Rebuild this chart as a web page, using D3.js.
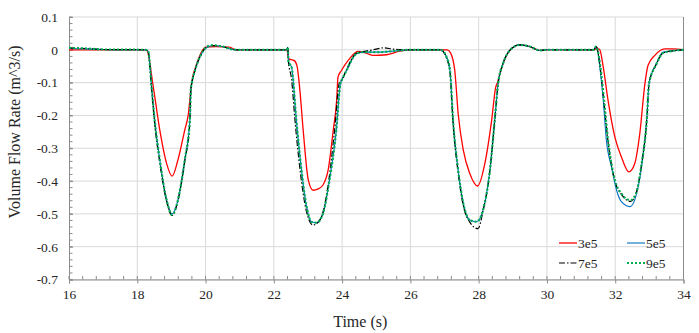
<!DOCTYPE html>
<html>
<head>
<meta charset="utf-8">
<script src="https://cdn.jsdelivr.net/npm/d3@7"></script>
<style>
  body { margin: 0; background: #fff; }
</style>
</head>
<body>
<div id="chart"></div>
<script>
// series data (time in s, flow in m^3/s)
var t3e5 = [16, 18.2, 18.28, 18.47, 18.66, 18.86, 19.02, 19.19, 19.39, 19.49, 19.59, 19.75, 19.88, 20.0, 20.3, 20.7, 20.9,
  22.39, 22.42, 22.6, 22.68, 22.76, 22.86, 23.01, 23.15, 23.3, 23.44, 23.59, 23.74, 23.84, 23.88, 23.98, 24.22, 24.47, 24.7, 24.91, 25.3, 25.69, 26.0,
  27.08, 27.18, 27.3, 27.4, 27.55, 27.74, 27.97, 28.18, 28.38, 28.5, 28.55, 28.71, 28.91, 29.2, 29.5, 29.79, 30.0,
  31.4, 31.45, 31.5, 31.55, 31.65, 31.79, 31.99, 32.18, 32.4, 32.57, 32.72, 32.87, 32.96, 33.16, 33.45, 33.7, 34];
var v3e5 = [0, 0, -0.002, -0.114, -0.245, -0.347, -0.385, -0.336, -0.245, -0.2, -0.103, -0.04, -0.007, 0.008, 0.01, 0.008, 0,
  0, -0.027, -0.033, -0.05, -0.12, -0.245, -0.397, -0.428, -0.424, -0.412, -0.367, -0.245, -0.154, -0.083, -0.063, -0.027, -0.005, -0.01, -0.017, -0.015, -0.004, 0,
  0, -0.01, -0.063, -0.195, -0.306, -0.377, -0.415, -0.347, -0.215, -0.114, -0.1, -0.043, -0.002, 0.015, 0.01, -0.002, 0,
  0, 0.008, 0.003, 0, -0.053, -0.154, -0.266, -0.326, -0.372, -0.347, -0.255, -0.103, -0.048, -0.017, 0.003, 0.003, 0];

var t5e5 = [16, 16.5, 17, 18.25, 18.32, 18.42, 18.51, 18.66, 18.86, 19.02, 19.19, 19.39, 19.54, 19.57, 19.6, 19.69, 19.88, 20.05, 20.22, 20.5, 20.8, 21,
  22.38, 22.41, 22.43, 22.52, 22.66, 22.81, 22.96, 23.1, 23.25, 23.44, 23.63, 23.83, 23.95, 24.0, 24.13, 24.42, 24.62, 25.1, 25.6, 26,
  26.9, 26.96, 27.06, 27.16, 27.25, 27.4, 27.55, 27.74, 27.94, 28.13, 28.33, 28.47, 28.57, 28.71, 28.91, 29.2, 29.5, 29.79, 30,
  31.38, 31.43, 31.48, 31.55, 31.65, 31.74, 31.89, 32.04, 32.18, 32.43, 32.57, 32.77, 32.93, 32.99, 33.2, 33.4, 33.7, 34];
var v5e5 = [0.004, 0.003, 0.001, 0, -0.005, -0.114, -0.215, -0.336, -0.458, -0.5, -0.458, -0.336, -0.215, -0.12, -0.1, -0.063, -0.012, 0.008, 0.013, 0.01, 0.001, 0,
  0, 0.008, -0.037, -0.053, -0.215, -0.367, -0.478, -0.524, -0.527, -0.499, -0.397, -0.245, -0.103, -0.09, -0.063, -0.012, -0.007, -0.007, -0.003, 0,
  0, -0.005, -0.022, -0.063, -0.215, -0.367, -0.468, -0.519, -0.524, -0.488, -0.367, -0.215, -0.103, -0.043, -0.002, 0.015, 0.01, -0.002, 0,
  0, 0.01, 0, -0.053, -0.154, -0.275, -0.357, -0.428, -0.463, -0.478, -0.458, -0.357, -0.205, -0.103, -0.043, -0.007, -0.003, 0];

var t7e5 = [16, 16.5, 17, 18.25, 18.32, 18.42, 18.51, 18.66, 18.86, 19.02, 19.19, 19.39, 19.54, 19.57, 19.6, 19.69, 19.88, 20.05, 20.22, 20.5, 20.8, 21,
  22.38, 22.41, 22.43, 22.52, 22.62, 22.77, 22.95, 23.15, 23.3, 23.44, 23.62, 23.78, 23.92, 24.0, 24.13, 24.42, 24.7, 25.0, 25.2, 25.5, 26,
  26.9, 26.96, 27.06, 27.16, 27.25, 27.4, 27.55, 27.74, 27.98, 28.13, 28.33, 28.47, 28.57, 28.71, 28.91, 29.2, 29.5, 29.79, 30,
  31.38, 31.43, 31.48, 31.55, 31.65, 31.79, 31.99, 32.18, 32.45, 32.6, 32.77, 32.93, 32.99, 33.2, 33.4, 33.7, 34];
var v7e5 = [0.006, 0.004, 0.001, 0, -0.005, -0.12, -0.225, -0.345, -0.462, -0.505, -0.46, -0.34, -0.22, -0.12, -0.1, -0.063, -0.012, 0.01, 0.013, 0.01, 0.001, 0,
  0, 0.008, -0.037, -0.09, -0.215, -0.367, -0.49, -0.534, -0.525, -0.495, -0.39, -0.245, -0.1, -0.09, -0.06, -0.01, -0.004, 0.002, 0.006, 0.002, 0,
  0, -0.005, -0.025, -0.07, -0.225, -0.375, -0.475, -0.525, -0.545, -0.49, -0.367, -0.215, -0.103, -0.043, -0.002, 0.015, 0.01, -0.002, 0,
  0, 0.01, 0, -0.045, -0.14, -0.28, -0.4, -0.44, -0.462, -0.44, -0.35, -0.205, -0.103, -0.045, -0.01, -0.003, 0];

var t9e5 = [16, 16.5, 17, 18.25, 18.32, 18.42, 18.51, 18.66, 18.86, 19.02, 19.19, 19.39, 19.54, 19.57, 19.6, 19.69, 19.88, 20.05, 20.22, 20.5, 20.8, 21,
  22.38, 22.41, 22.43, 22.52, 22.66, 22.81, 22.96, 23.1, 23.25, 23.44, 23.63, 23.83, 23.95, 24.0, 24.13, 24.42, 24.62, 25.1, 25.6, 26,
  26.9, 26.96, 27.06, 27.16, 27.25, 27.4, 27.55, 27.74, 27.94, 28.13, 28.33, 28.47, 28.57, 28.71, 28.91, 29.2, 29.5, 29.79, 30,
  31.38, 31.43, 31.48, 31.55, 31.65, 31.79, 31.99, 32.18, 32.45, 32.6, 32.77, 32.93, 32.99, 33.2, 33.4, 33.7, 34];
var v9e5 = [0.006, 0.004, 0.001, 0, -0.005, -0.114, -0.215, -0.336, -0.458, -0.503, -0.458, -0.336, -0.215, -0.12, -0.1, -0.063, -0.012, 0.01, 0.014, 0.01, 0.001, 0,
  0, 0.008, -0.037, -0.053, -0.215, -0.367, -0.478, -0.524, -0.527, -0.499, -0.397, -0.245, -0.103, -0.09, -0.063, -0.012, -0.007, -0.007, -0.003, 0,
  0, -0.005, -0.022, -0.063, -0.215, -0.367, -0.468, -0.519, -0.524, -0.488, -0.367, -0.215, -0.103, -0.043, -0.002, 0.015, 0.01, -0.002, 0,
  0, 0.01, 0, -0.04, -0.13, -0.275, -0.397, -0.438, -0.458, -0.44, -0.35, -0.205, -0.103, -0.045, -0.01, -0.003, 0];

var seriesNames = ["3e5", "5e5", "7e5", "9e5"];
var xTicks = [16, 18, 20, 22, 24, 26, 28, 30, 32, 34];
var yTicks = [0.1, 0, -0.1, -0.2, -0.3, -0.4, -0.5, -0.6, -0.7];

var FONT = "'Liberation Serif', 'Times New Roman', serif";

// set the dimensions and margins of the graph
var margin = { top: 17, right: 15.5, bottom: 53.5, left: 69 },
  width = 699 - margin.left - margin.right,
  height = 333 - margin.top - margin.bottom;

var svg = d3.select("#chart")
  .append("svg")
  .attr("width", 699)
  .attr("height", 333)
  .append("g")
  .attr("transform", "translate(" + margin.left + "," + margin.top + ")");

var x = d3.scaleLinear().domain([16, 34]).range([0, width]);
var y = d3.scaleLinear().domain([-0.7, 0.1]).range([height, 0]);

// gridlines
svg.append("g").selectAll("line").data(yTicks).enter().append("line")
  .attr("x1", 0).attr("x2", width)
  .attr("y1", function (d) { return y(d); }).attr("y2", function (d) { return y(d); })
  .attr("stroke", "#d9d9d9").attr("stroke-width", 1);
svg.append("g").selectAll("line").data(xTicks.slice(1, -1)).enter().append("line")
  .attr("x1", function (d) { return x(d); }).attr("x2", function (d) { return x(d); })
  .attr("y1", 0).attr("y2", height)
  .attr("stroke", "#d9d9d9").attr("stroke-width", 1);

// minor ticks (inward)
var xMinor = d3.range(16, 34.001, 0.4);
var yMinor = d3.range(-0.7, 0.1001, 0.02);
svg.append("g").selectAll("line").data(xMinor).enter().append("line")
  .attr("x1", function (d) { return x(d); }).attr("x2", function (d) { return x(d); })
  .attr("y1", height).attr("y2", height - 3.5)
  .attr("stroke", "#8c8c8c");
svg.append("g").selectAll("line").data(yMinor).enter().append("line")
  .attr("x1", 0).attr("x2", 3.5)
  .attr("y1", function (d) { return y(d); }).attr("y2", function (d) { return y(d); })
  .attr("stroke", "#8c8c8c");

// axes
var xAxis = svg.append("g")
  .attr("transform", "translate(0," + height + ")")
  .call(d3.axisBottom(x).tickValues(xTicks).tickSize(4).tickPadding(6).tickFormat(d3.format("d")));

var yAxis = svg.append("g")
  .call(d3.axisLeft(y).tickValues(yTicks).tickSize(-4).tickPadding(11)
    .tickFormat(function (d) { return d === 0 ? "0" : d3.format(".1f")(d).replace("\u2212", "-"); }));

[xAxis, yAxis].forEach(function (a) {
  a.attr("font-family", FONT).attr("font-size", 13.5);
  a.selectAll("text").style("font-family", FONT).style("font-size", "13.5px").attr("fill", "#262626");
});

svg.selectAll(".domain").attr("stroke", "#8c8c8c");
svg.selectAll(".tick line").attr("stroke", "#8c8c8c");

// right border
svg.append("line")
  .attr("x1", width).attr("x2", width).attr("y1", 0).attr("y2", height)
  .attr("stroke", "#8c8c8c");

// axis titles
svg.append("text")
  .attr("x", x(25) - 16)
  .attr("y", height + 47.5)
  .attr("text-anchor", "middle")
  .style("font-family", FONT)
  .style("font-size", "16px")
  .attr("fill", "#262626")
  .text("Time (s)");

svg.append("text")
  .attr("transform", "rotate(-90)")
  .attr("x", -(132 - margin.top))
  .attr("y", -margin.left + 20)
  .attr("text-anchor", "middle")
  .style("font-family", FONT)
  .style("font-size", "16px")
  .attr("fill", "#262626")
  .text("Volume Flow Rate (m^3/s)");

// lines
var series = [
  { name: seriesNames[0], t: t3e5, v: v3e5, color: "#ff0000", w: 1.3, dash: null },
  { name: seriesNames[1], t: t5e5, v: v5e5, color: "#0070c0", w: 1.1, dash: null },
  { name: seriesNames[2], t: t7e5, v: v7e5, color: "#000000", w: 1.2, dash: "6,2,1.5,2" },
  { name: seriesNames[3], t: t9e5, v: v9e5, color: "#00b050", w: 2.2, dash: "2,2" }
];

var line = d3.line()
  .x(function (d) { return x(d[0]); })
  .y(function (d) { return y(d[1]); })
  .curve(d3.curveMonotoneX);

series.forEach(function (s) {
  svg.append("path")
    .datum(d3.zip(s.t, s.v))
    .attr("fill", "none")
    .attr("stroke", s.color)
    .attr("stroke-width", s.w)
    .attr("stroke-dasharray", s.dash)
    .attr("d", line);
});

// legend
var legendPos = [[559 - margin.left, 243 - margin.top], [627 - margin.left, 243 - margin.top],
  [559 - margin.left, 263 - margin.top], [627 - margin.left, 263 - margin.top]];
series.forEach(function (s, i) {
  var g = svg.append("g").attr("transform", "translate(" + legendPos[i][0] + "," + legendPos[i][1] + ")");
  g.append("line")
    .attr("x1", 0).attr("x2", 18).attr("y1", 0).attr("y2", 0)
    .attr("stroke", s.color)
    .attr("stroke-width", s.w)
    .attr("stroke-dasharray", s.dash);
  g.append("text")
    .attr("x", 19).attr("y", 0).attr("dy", "0.35em")
    .style("font-family", FONT)
    .style("font-size", "13.5px")
    .attr("fill", "#262626")
    .text(s.name);
});
</script>
</body>
</html>
